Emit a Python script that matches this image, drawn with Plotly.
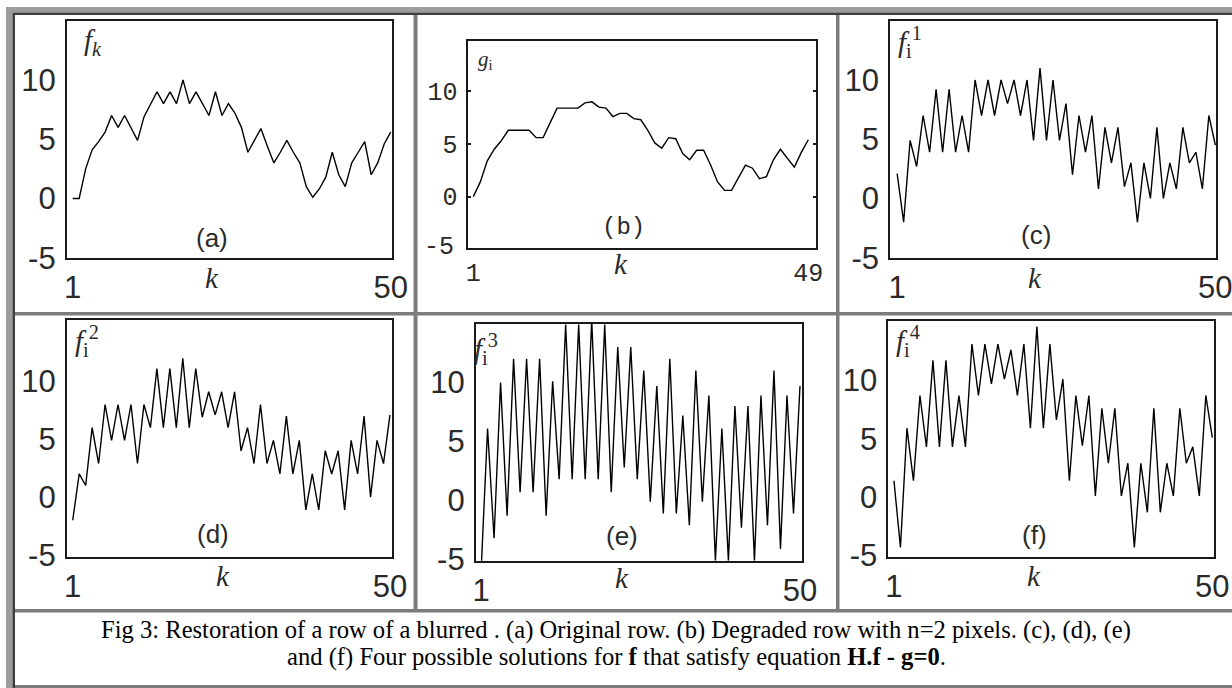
import plotly.graph_objects as go

W, H = 1232, 688

# ---------------- data ----------------
k50 = list(range(1, 51))
k49 = list(range(1, 50))

f_orig = [0, 0, 2.5, 4.1, 4.8, 5.6, 7.0, 6.0, 7.0, 5.9,
          4.9, 6.9, 8.0, 9.0, 8.0, 9.0, 8.0, 10.0, 8.0, 9.0,
          8.0, 7.0, 9.0, 7.0, 8.0, 7.2, 6.0, 3.9, 4.9, 5.9,
          4.4, 3.0, 3.9, 4.9, 3.9, 3.0, 1.0, 0.1, 0.8, 1.8,
          3.9, 2.0, 1.0, 3.0, 3.9, 4.8, 2.0, 3.0, 4.6, 5.6]

g_degraded = [0, 1.4, 3.4, 4.5, 5.3, 6.3, 6.3, 6.3, 6.3, 5.6,
              5.6, 7.0, 8.4, 8.4, 8.4, 8.4, 8.9, 9.0, 8.5, 8.4,
              7.6, 7.9, 7.9, 7.4, 7.3, 6.3, 5.1, 4.6, 5.6, 5.5,
              4.1, 3.5, 4.4, 4.4, 3.0, 1.4, 0.6, 0.6, 1.8, 3.0,
              2.7, 1.7, 1.9, 3.5, 4.5, 3.6, 2.8, 4.2, 5.4]

f_sol1 = [2.1, -2.0, 4.9, 2.7, 7.0, 3.9, 9.2, 3.9, 9.2, 3.9,
          7.0, 3.9, 10.0, 7.0, 10.0, 7.0, 10.0, 8.0, 10.0, 7.0,
          10.0, 4.9, 11.0, 4.9, 10.0, 4.9, 8.0, 2.0, 7.0, 3.9,
          7.0, 0.8, 6.0, 3.0, 6.0, 1.0, 3.0, -2.0, 3.0, 0.0,
          6.0, 0.0, 3.0, 0.8, 6.0, 3.0, 3.9, 0.8, 7.0, 4.5]

f_sol2 = [-2.0, 2.0, 1.0, 6.0, 2.9, 8.0, 4.9, 8.0, 4.9, 8.0,
          2.9, 8.0, 6.0, 11.1, 6.0, 11.1, 6.0, 12.0, 6.0, 11.1,
          6.9, 9.1, 7.1, 9.1, 6.0, 9.1, 4.0, 6.0, 2.9, 8.0,
          2.9, 4.9, 2.0, 7.0, 2.0, 4.9, -1.1, 2.0, -1.1, 4.0,
          2.0, 4.0, -1.1, 4.9, 2.0, 7.0, 0.0, 4.9, 2.9, 7.1]

f_sol3 = [-6.1, 6.1, -3.2, 10.0, -1.3, 12.0, 0.7, 12.0, 0.7, 12.0,
          -1.3, 10.1, 1.8, 14.9, 1.8, 14.9, 1.8, 15.3, 1.8, 14.9,
          0.7, 13.0, 2.8, 13.0, 1.8, 11.0, -0.1, 9.7, -1.1, 12.0,
          -1.1, 7.2, -2.1, 11.0, -0.1, 8.9, -5.1, 6.1, -5.1, 8.0,
          -2.3, 8.0, -5.1, 8.9, -2.1, 11.0, -4.1, 8.9, -1.1, 9.7]

f_sol4 = [1.4, -4.3, 5.9, 1.4, 8.7, 4.3, 11.7, 4.3, 11.7, 4.3,
          8.7, 4.3, 13.1, 8.7, 13.1, 9.7, 13.1, 10.1, 12.6, 8.7,
          13.1, 5.9, 14.6, 5.9, 13.1, 6.6, 10.1, 1.4, 8.7, 4.4,
          8.7, 0.1, 7.6, 2.9, 7.6, 0.1, 2.9, -4.3, 2.9, -1.3,
          7.6, -1.3, 2.9, 0.1, 7.6, 2.9, 4.3, 0.1, 8.7, 5.1]

y_ticks = [-5, 0, 5, 10]
y_ticktext = ["-5", "0", "5", "10"]

caption_line1 = ("Fig 3: Restoration of a row of a blurred . (a) Original row. "
                 "(b) Degraded row with n=2 pixels. (c), (d), (e)")
caption_line2 = ("and (f) Four possible solutions for <b>f</b> that satisfy equation "
                 "<b>H.f - g=0</b>.")


# ---------------- helpers ----------------
def px(x):
    return x / W


def py(y):
    return 1 - y / H


SANS = "Liberation Sans, Arial, sans-serif"
MONO = "Liberation Mono, DejaVu Sans Mono, monospace"
SERIF = "Liberation Serif, Times New Roman, serif"
TXT = "#2a2a2a"

panels = [
    dict(box=(66.7, 20.7, 392.3, 258.3), xr=[0.08, 50.25], yr=[-5.05, 15.0], x=k50, y=f_orig,
         xt=[1, 50], lab="(a)", labpos=(212, 238), kpos=(212, 278),
         title="<i>f</i><sub><i>k</i></sub>", tpos=(82, 42), font=SANS),
    dict(box=(468.3, 40.7, 815.7, 248.3), xr=[0.28, 50.06], yr=[-4.9, 14.8], x=k49, y=g_degraded,
         xt=[1, 49], lab="(b)", labpos=(623, 228), kpos=(621, 264),
         title="<i>g</i><sub>i</sub>", tpos=(476, 60), font=MONO),
    dict(box=(890.0, 20.7, 1216.0, 258.3), xr=[-0.1, 50.1], yr=[-5.05, 15.0], x=k50, y=f_sol1,
         xt=[1, 50], lab="(c)", labpos=(1036, 235), kpos=(1035, 278),
         title="<i>f</i><sub>i</sub><sup>1</sup>", tpos=(896, 42), font=SANS),
    dict(box=(66.7, 320.0, 392.3, 557.3), xr=[0.07, 50.36], yr=[-5.2, 15.3], x=k50, y=f_sol2,
         xt=[1, 50], lab="(d)", labpos=(213, 534), kpos=(223, 576),
         title="<i>f</i><sub>i</sub><sup>2</sup>", tpos=(73, 341), font=SANS),
    dict(box=(475.7, 324.0, 801.7, 560.7), xr=[0.18, 50.26], yr=[-5.1, 14.95], x=k50, y=f_sol3,
         xt=[1, 50], lab="(e)", labpos=(622, 536), kpos=(622, 578),
         title="<i>f</i><sub>i</sub><sup>3</sup>", tpos=(472, 349), font=SANS),
    dict(box=(888.3, 320.7, 1214.0, 556.7), xr=[0.13, 50.26], yr=[-5.1, 15.1], x=k50, y=f_sol4,
         xt=[1, 50], lab="(f)", labpos=(1034, 535), kpos=(1034, 576),
         title="<i>f</i><sub>i</sub><sup>4</sup>", tpos=(894, 341), font=SANS),
]

fig = go.Figure()
layout = dict(
    width=W, height=H, margin=dict(l=0, r=0, t=0, b=0, autoexpand=False),
    paper_bgcolor="white", plot_bgcolor="white", showlegend=False,
)
annotations = []
shapes = []

GRAY_OUT = "#9c9c9c"
GRAY_SEP = "#7c7c7c"
DARK = "#3e3e3e"


def rect(x0, y0, x1, y1, color):
    x0, x1 = max(0, x0), min(W, x1)
    y0, y1 = max(0, y0), min(H, y1)
    shapes.append(dict(type="rect", xref="paper", yref="paper", layer="below",
                       x0=px(x0), x1=px(x1), y0=py(y1), y1=py(y0),
                       fillcolor=color, line=dict(width=0)))


rect(6, 7, W, H, GRAY_OUT)
rect(12.7, 12.7, W, H, DARK)
rect(15, 15, W, H, GRAY_SEP)
cells = [(15, 15, 413.5, 312), (417.5, 15, 836, 312), (839.5, 15, W, 312),
         (15, 315.5, 413.5, 609), (417.5, 315.5, 836, 609), (839.5, 315.5, W, 609),
         (15, 612.5, W, 685)]
for c in cells:
    rect(*c, "white")

for i, p in enumerate(panels):
    n = "" if i == 0 else str(i + 1)
    x0, y0, x1, y1 = p["box"]
    is_b = (i == 1)
    fig.add_trace(go.Scatter(
        x=p["x"], y=p["y"], mode="lines", xaxis="x" + n, yaxis="y" + n,
        line=dict(color="black", width=1.4), hoverinfo="skip"))
    layout["xaxis" + n] = dict(
        domain=[px(x0), px(x1)], range=p["xr"], anchor="y" + n, automargin=False,
        showline=True, mirror=True, linecolor="#1a1a1a", linewidth=1.6,
        showgrid=False, zeroline=False, ticks="", ticklabeloverflow="allow",
        tickvals=p["xt"], ticktext=[str(v) for v in p["xt"]],
        tickfont=dict(family=p["font"], size=25 if is_b else 31, color=TXT),
        ticklabelstandoff=1 if is_b else 1, fixedrange=True)
    ydict = dict(
        domain=[py(y1), py(y0)], range=p["yr"], anchor="x" + n, automargin=False,
        showline=True, mirror="ticks" if is_b else True, linecolor="#1a1a1a", linewidth=1.6,
        showgrid=False, zeroline=False, ticklabeloverflow="allow",
        tickvals=y_ticks, ticktext=y_ticktext,
        tickfont=dict(family=p["font"], size=25 if is_b else 31, color=TXT),
        ticklabelstandoff=3, fixedrange=True)
    if is_b:
        ydict.update(ticks="inside", ticklen=3, tickcolor="#1a1a1a", tickwidth=1.5,
                     tickvals=[0, 5, 10], ticktext=["0", "5", "10"], ticklabelstandoff=4)
    else:
        ydict.update(ticks="")
    layout["yaxis" + n] = ydict

    annotations.append(dict(
        x=px(p["labpos"][0]), y=py(p["labpos"][1]), xref="paper", yref="paper",
        text=p["lab"], showarrow=False, xanchor="center", yanchor="middle",
        font=dict(family=p["font"], size=24 if is_b else 26, color=TXT)))
    annotations.append(dict(
        x=px(p["kpos"][0]), y=py(p["kpos"][1]), xref="paper", yref="paper",
        text="<i>k</i>", showarrow=False, xanchor="center", yanchor="middle",
        font=dict(family=SERIF, size=29, color=TXT)))
    annotations.append(dict(
        x=px(p["tpos"][0]), y=py(p["tpos"][1]), xref="paper", yref="paper",
        text=p["title"], showarrow=False, xanchor="left", yanchor="middle",
        font=dict(family=SERIF, size=21 if is_b else 29, color=TXT)))

# (b) -5 label (no tick mark there in the original)
annotations.append(dict(
    x=px(456), y=py(248), xref="paper", yref="paper", text="-5", showarrow=False,
    xanchor="right", yanchor="middle", font=dict(family=MONO, size=25, color=TXT)))

annotations.append(dict(
    x=px(616), y=py(630), xref="paper", yref="paper", text=caption_line1, showarrow=False,
    xanchor="center", yanchor="middle", font=dict(family=SERIF, size=24.6, color="black")))
annotations.append(dict(
    x=px(616), y=py(657), xref="paper", yref="paper", text=caption_line2, showarrow=False,
    xanchor="center", yanchor="middle", font=dict(family=SERIF, size=24.6, color="black")))

layout["annotations"] = annotations
layout["shapes"] = shapes
fig.update_layout(**layout)

fig.write_html("out.html", config={"displayModeBar": False},
               post_script="document.body.style.margin='0';document.body.style.overflow='hidden';")
